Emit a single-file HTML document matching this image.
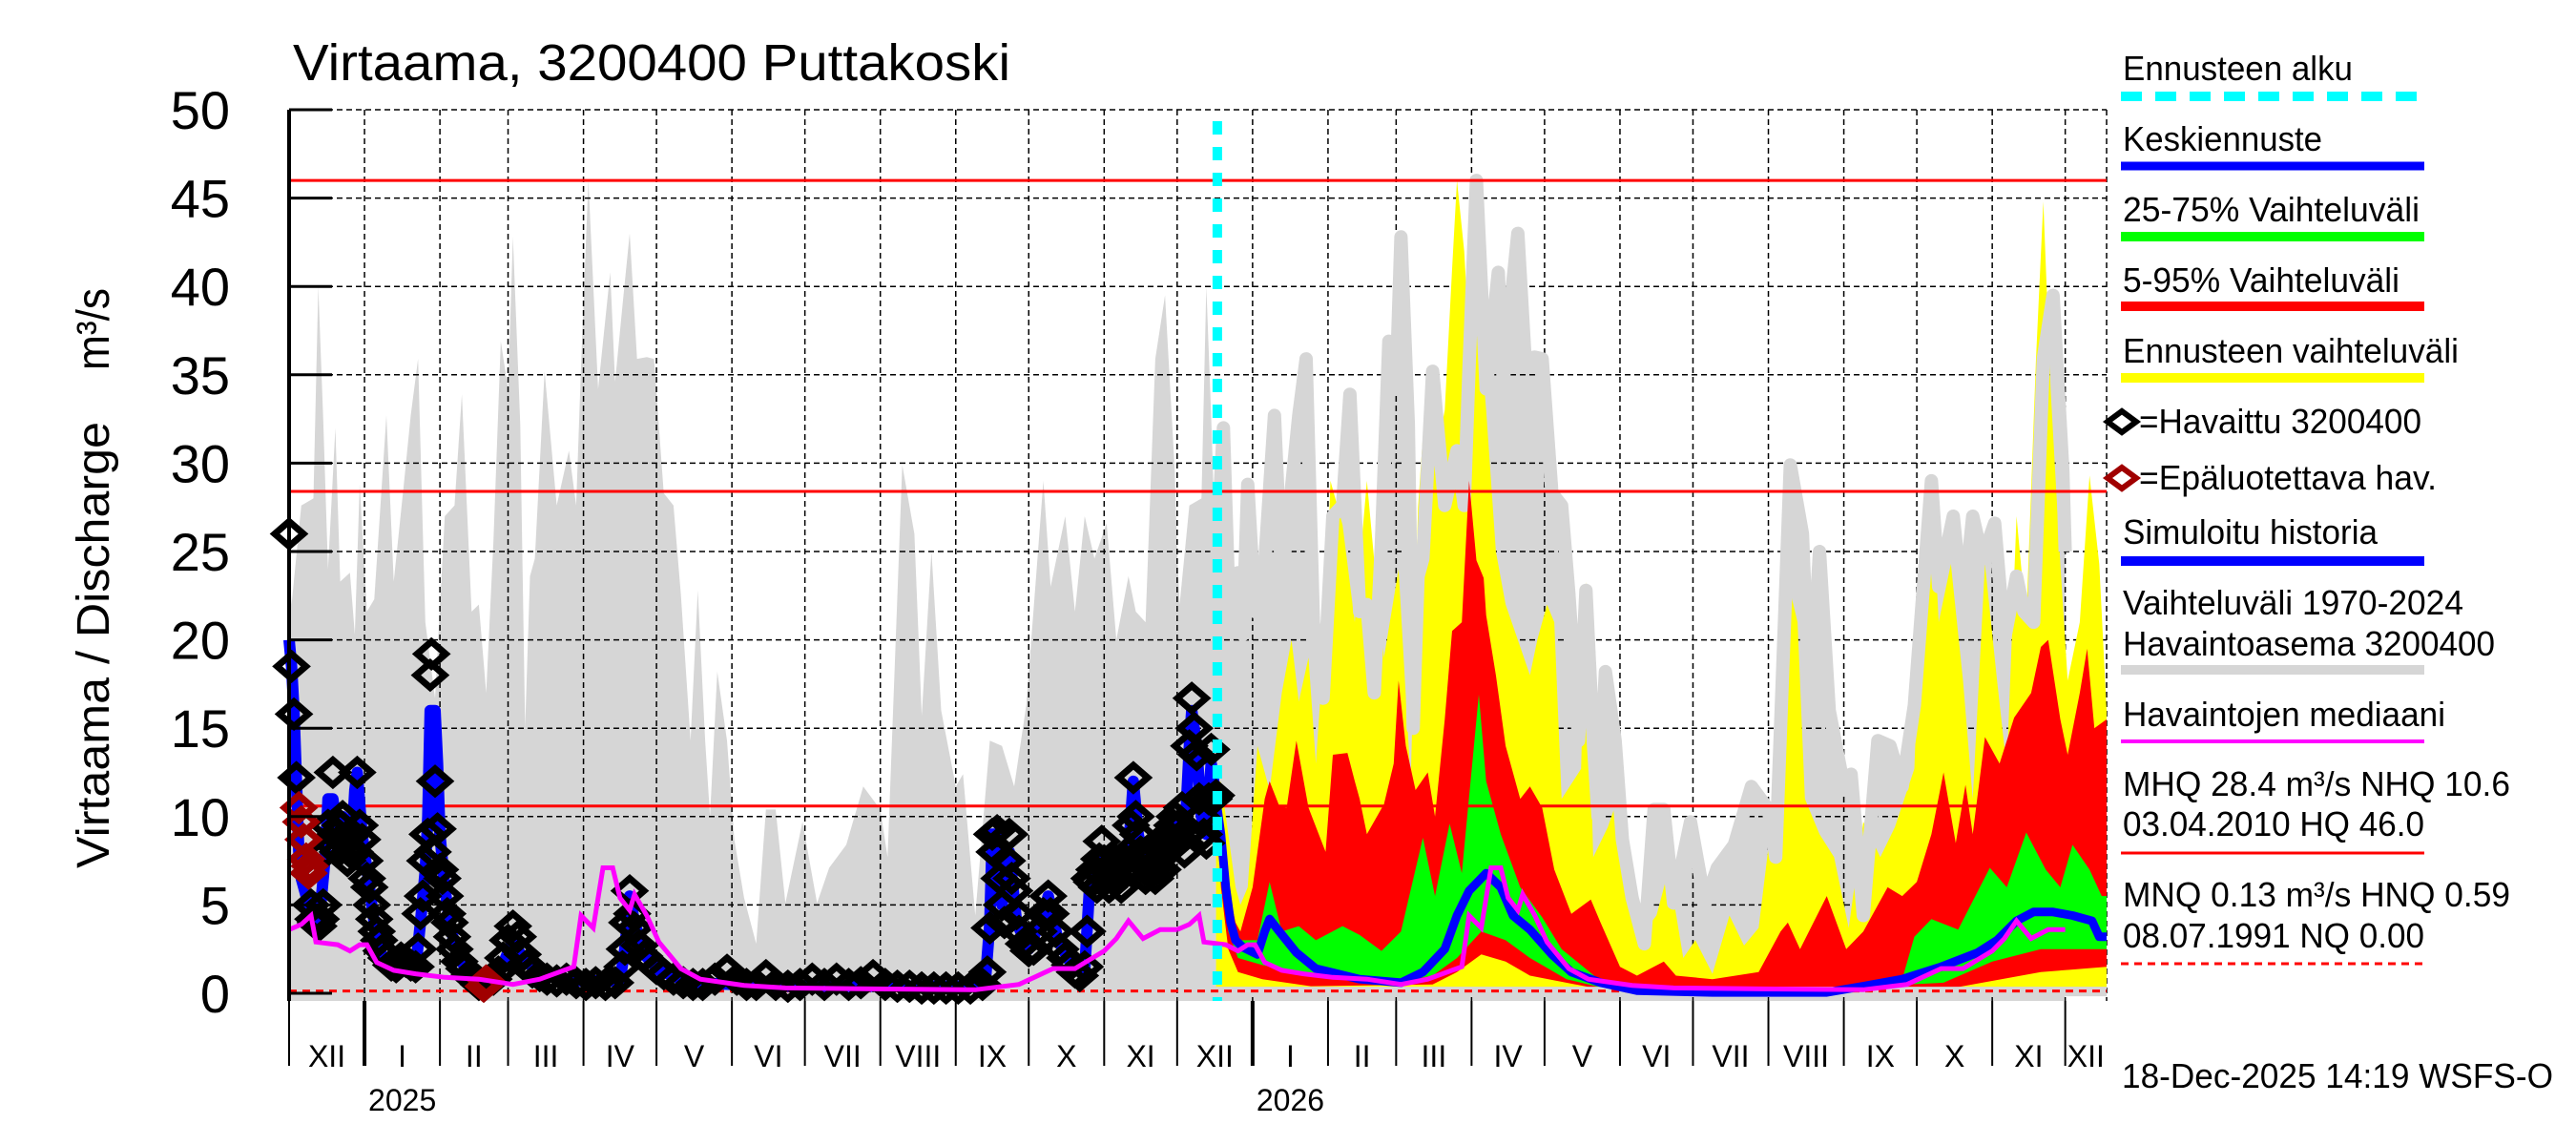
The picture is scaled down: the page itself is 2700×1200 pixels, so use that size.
<!DOCTYPE html>
<html><head><meta charset="utf-8"><style>
html,body{margin:0;padding:0;background:#fff;}
svg{display:block;font-family:"Liberation Sans",Arial,sans-serif;}
</style></head><body>
<svg id="chart" width="2700" height="1200" viewBox="0 0 2700 1200" xmlns="http://www.w3.org/2000/svg">
<rect x="0" y="0" width="2700" height="1200" fill="#fff"/>
<g id="plot"></g>
<text x="307" y="84" font-size="54" textLength="752" lengthAdjust="spacingAndGlyphs">Virtaama, 3200400 Puttakoski</text>
<text transform="translate(114,910) rotate(-90)" font-size="48" textLength="468" lengthAdjust="spacingAndGlyphs">Virtaama / Discharge</text>
<text transform="translate(114,388) rotate(-90)" font-size="48" textLength="86" lengthAdjust="spacingAndGlyphs">m³/s</text>
<text x="2224" y="1140" font-size="36" textLength="452" lengthAdjust="spacingAndGlyphs">18-Dec-2025 14:19 WSFS-O</text>
<g id="legend"></g>
</svg>
<script>
// ---- data (days since 1 Dec 2024) ----
const climDays=[0,1,5,10,12,14,16,19,21,25,27,29,32,35,40,43,47,50,53,56,60,64,68,71,75,78,81,84,87,90,92,95,97,99,101,105,110,115,118,120,123,127,132,134,137,140,143,147,150,154,158,161,165,168,171,173,176,180,183,187,192,196,200,204,211,217,222,229,236,243,246,252,257,260,264,268,274,277,282,288,293,298,303,310,313,319,323,327,331,336,340,345,348,352,356,360,364,365];
const climMax=[25,22,27.6,28,40,32.6,24,32,23.3,23.8,20.3,28.8,21.6,22.3,32.7,23.3,28.6,32.7,35.9,21,16.7,27,27.6,33.9,21.6,22,17,25.6,36.9,34.2,42.8,32.2,15,23.6,24.6,35.2,27.6,30.7,27.6,35.5,46,34.2,40.8,34.6,38.9,43,35.9,36,35.9,28.3,27.6,22.6,14.3,22.8,14.3,10,18.2,14.3,8.7,5.4,2.8,10.4,10.4,5.1,9.7,5.1,7.1,8.4,11.7,10.4,7.7,29.9,26,15.7,25,16,11.7,12.4,4.4,14.3,14,11.7,16.3,29,23,27,21.6,27,24.6,26.6,20,23.6,21.6,21,35.9,39.5,29.6,25];
const medDays=[0,5,9,11,20,25,29,32,36,43,52,64,78,92,103,113,117,120,125,129,133,136,140,142,147,152,161,169,187,204,240,282,300,314,323,335,340,345,351,358,365];
const medVals=[3.6,3.9,4.4,2.9,2.75,2.4,2.75,2.75,1.75,1.3,1.1,0.9,0.8,0.5,0.8,1.3,1.5,4.4,3.7,7.1,7.1,5.4,4.7,5.6,4.4,2.9,1.4,0.8,0.45,0.3,0.25,0.2,0.5,1.4,1.4,2.4,3.1,4.1,3.1,3.6,3.6];
const obsDays=[0,1,2,3,9,10,11,12,13,14,15,16,17,18,19,20,21,22,23,24,25,26,27,28,29,30,31,32,33,34,35,36,37,38,40,42,44,46,48,50,52,53,54,55,56,57,58,58.5,59,60,61,62,63,64,65,66,67,68,70,72,74,76,78,84,86,88,90,92,94,96,98,100,103,106,110,114,118,122,126,130,134,137,138,139,140,141,142,144,146,148,151,154,158,162,166,170,175,180,184,188,192,196,200,205,210,215,220,225,230,235,240,245,250,255,260,265,270,275,280,285,287,288,289,290,291,292,293,294,295,296,297,298,299,300,302,304,306,308,310,312,313,315,317,319,321,323,325,327,328,329,330,331,332,333,334,335,336,337,338,339,340,341,342,343,344,345,346,347,348,349,350,351,352,353,354,355,356,357,358,359,360,361,362,363,364,365,366,367,368,369,370,371,372,373,374,375,376,377,378,379,380,381];
const obsVals=[26,18.5,15.8,12.2,5,4.2,4,3.8,4.2,5,8,9.5,8.5,12.5,9,8,9.5,10,8.5,7.5,8,9,8,12.5,9.5,8.7,7.5,6.5,6,5,4.2,3.5,3,2.4,2,1.6,1.5,2,1.8,1.6,1.5,2.5,4.5,5.5,7.5,9,18,19.2,8,12,9.3,7,6.5,5.5,4.5,4,3.2,2.5,1.8,1.4,1,0.8,0.5,0.8,1.2,2,3,3.8,3.2,2.2,1.6,1.2,1,0.8,0.7,0.8,0.6,0.5,0.6,0.5,0.6,1.5,2.5,4,5.8,4.5,3.7,2.7,2.1,1.8,1.4,1.1,0.8,0.6,0.5,0.5,0.8,1.3,0.8,0.5,0.5,1,0.5,0.4,0.5,0.8,0.5,0.8,0.5,0.6,1,0.5,0.4,0.4,0.3,0.3,0.3,0.3,0.3,0.5,1.2,3.7,9,8,9.2,6.5,5,4,7.5,9,6.5,5.8,4.5,3.5,2.8,2.4,2.5,3.5,4.5,5.5,4.5,3.5,2.5,2,1.6,1.2,1,1.5,3.5,6.5,6.3,7,6,7.6,8.6,7.5,6.5,6,7,6.5,7.5,6.5,6,6.8,7.5,8,9.5,12.2,10,9,8,7.5,6.5,7,8,7,6.5,7.5,8.5,7,8,9,8.5,9.5,10,8.5,9.5,10.5,8,9,14,16.7,15,13.5,11,10,9,8.5,11,13.8,11,11.2];
const badDays=[4,5,6,7,8,8.5,80,81];
const badVals=[10.5,9.7,8.7,7.6,6.8,7.2,0.4,0.7];
const simDays=[0,1,2,3,4,5,7,9,11,13,15,16,18,20,22,24,26,27,28,30,32,34,36,38,42,48,52,54,56,57,58,60,61,62,64,66,68,72,78,86,92,96,104,120,136,138,140,142,146,152,165,200,286,288,289,291,293,296,299,304,310,312,316,322,327,329,333,336,340,345,347,349,352,356,360,364,368,370,371,373,375,377,379,381];
const simVals=[20,18.5,16,12,8,6.5,5.5,4.5,4,5,8,11,11,9,10,8,9,11.5,12.5,9,7,5,3,2.2,1.6,1.6,1.4,4,7,10,16,16,13,9,6,4,2.8,1.5,0.6,1,3,2,1,0.7,0.7,2.5,5.5,4,2.2,1.3,0.6,0.4,0.4,4,9,9,5,8,4,2.5,4.5,5.5,3,1.5,1.3,6,7.5,6,7,8,12,9,7,7,8,9.5,8.5,14,16,14,10,9,13,11];
const fcDays=[381,383,385,387,389,392,398,401,403,407,414,422,440,457,466,475,480,485,492,498,503,510,519,527,539,554,585,632,647,663,679,694,702,710,717,725,733,741,744,747];
const fcMedian=[11,9,6,4,3,2.6,2.2,3.5,4.2,3.5,2.3,1.4,0.8,0.6,1.2,2.5,4.4,5.8,6.8,6,4.4,3.6,2.2,1.2,0.6,0.15,0.05,0.05,0.4,0.8,1.5,2.3,3,4.1,4.6,4.6,4.4,4.1,3.2,3.2];
const yelDays=[381,383,386,389,391,394,398,403,408,412,415,419,422,426,428,433,438,443,447,450,456,461,464,468,471,475,478,480,483,485,489,492,496,500,505,510,513,517,520,523,531,533,536,542,547,553,558,562,567,573,578,585,592,598,604,609,613,616,620,623,629,635,641,647,654,660,668,672,675,678,683,688,692,697,702,706,710,714,718,721,724,728,731,736,740,744,747];
const yelMax=[11,12,9,6,5,6,14,11.5,17,20,16.5,19,13,21,29,26.5,21,29,23,19,24,12,27.5,35.5,30,33,41,46,42,37,38,33,25,22,20,18,20,22,21,11,12.7,23.3,7.7,9.4,11.4,6,3.7,4.4,7,2,3,1.1,4.4,2.7,3.7,9.4,17.7,23.3,21,11,9,7.7,3.7,9.7,7.7,9.4,12.7,27.6,29.3,21,24.3,17.7,11,24.3,17.7,12.7,27,21,35.9,44.8,34.2,24.3,17.7,21,29.3,24.3,16];
const redDays=[381,383,386,389,391,396,401,403,407,410,414,419,426,429,435,438,440,443,450,454,456,459,463,468,471,475,478,482,485,488,491,492,496,500,506,510,515,520,527,535,539,547,554,565,570,585,604,613,616,621,632,640,647,657,663,669,675,680,685,689,692,697,703,709,716,720,723,728,731,736,739,742,747];
const redHigh=[11,10,6,4,3.5,6,11,12,10.6,10.5,14.3,10.5,8,13.5,13.6,12,11,9,10.7,13,17.7,14,11.5,12.5,10,15.5,20.5,21,29,24.5,23.5,21.4,18,14,11,11.7,10.5,7,4.5,5.3,4,1.5,1,1.8,1,0.8,1.2,3.5,4,2.5,5.5,2.5,3.5,6,5.5,6.3,9,12.5,8.5,11.8,9,14.5,13,15.6,17,19.6,20,15.5,13.5,17,19.5,15,15.5];
const redLowDays=[381,383,386,390,400,420,470,480,490,500,510,540,600,680,700,720,747];
const redLow=[11,6,2.5,1.2,0.8,0.4,0.5,1.2,2.2,1.8,1,0.2,0.02,0.2,0.7,1.2,1.5];
const grnDays=[381,383,386,390,398,403,408,415,422,433,440,449,457,466,471,477,482,489,492,498,506,515,523,539,560,650,663,668,675,686,699,706,714,722,728,733,740,745,747];
const grnHigh=[11,8,4.5,3,3,6.3,3.5,3.8,3,3.8,3.3,2.4,3.5,8.8,5.5,9.6,6.8,16.9,12,9,6,4.3,2.5,0.7,0.25,0.25,0.8,3.2,4.2,3.6,7.1,6,9.1,7,6,8.4,7,5.5,5.5];
const grnLowDays=[381,383,386,390,400,420,450,470,480,490,500,510,525,540,600,680,700,720,747];
const grnLow=[11,7,3.5,2,1.6,1,0.5,1,2,3.5,3,2,0.8,0.3,0.05,0.6,1.8,2.5,2.5];
const refLevels=[46.0,28.4,10.6];
const lowRef=0.13;
const forecastStartDay=381.5;
const yTicks=[0,5,10,15,20,25,30,35,40,45,50];
const monthLens=[31,31,28,31,30,31,30,31,31,30,31,30,31,31,28,31,30,31,30,31,31,30,31,30,31];
const monthLabels=["XII","I","II","III","IV","V","VI","VII","VIII","IX","X","XI","XII","I","II","III","IV","V","VI","VII","VIII","IX","X","XI","XII"];
const yearLabels=["2025","2026"];

// ---- scales ----
const X0=303,X1=2208,DMAX=747,Y0=1041,PXV=18.52,YTOP=115,YBOT=1049;
function xs(d){return X0+(d/DMAX)*(X1-X0);}
function ys(v){return Y0-v*PXV;}
const NS="http://www.w3.org/2000/svg";
const plot=document.getElementById('plot');
function mk(tag,attrs,parent){const e=document.createElementNS(NS,tag);for(const k in attrs)e.setAttribute(k,attrs[k]);(parent||plot).appendChild(e);return e;}
function line(days,vals,off){return days.map((d,i)=>(i?'L':'M')+xs(d+(off||0)).toFixed(1)+','+ys(vals[i]).toFixed(1)).join(' ');}
function band(dU,vU,dL,vL){let p=line(dU,vU);for(let i=dL.length-1;i>=0;i--)p+=' L'+xs(dL[i]).toFixed(1)+','+ys(vL[i]).toFixed(1);return p+' Z';}
const clipR=mk('clipPath',{id:'clipPlot'});mk('rect',{x:X0,y:YTOP-30,width:X1-X0,height:YBOT-YTOP+40},clipR);

// gray climatology fill for two years
let gp='';
[0,365].forEach(off=>{gp+=line(climDays,climMax,off)+' L'+xs(365+off)+','+YBOT+' L'+xs(off)+','+YBOT+' Z ';});
let el=mk('path',{d:gp,fill:'#d6d6d6','clip-path':'url(#clipPlot)'});



// grid
const gridG=mk('g',{});


yTicks.forEach(v=>{if(v>0){mk('line',{x1:X0,x2:X1,y1:ys(v),y2:ys(v),stroke:'#000','stroke-width':1.5,'stroke-dasharray':'6,4'},gridG);}});
let cum=0;const bounds=[0];monthLens.forEach(m=>{cum+=m;bounds.push(cum);});
bounds.forEach(b=>{if(b>0&&b<DMAX){mk('line',{x1:xs(b),x2:xs(b),y1:YTOP,y2:YBOT,stroke:'#000','stroke-width':1.5,'stroke-dasharray':'6,4'},gridG);}});
mk('line',{x1:X1,x2:X1,y1:YTOP,y2:YBOT,stroke:'#000','stroke-width':1.5,'stroke-dasharray':'6,4'},gridG);

// forecast bands
el=mk('path',{d:line(yelDays,yelMax)+' L'+xs(747)+','+ys(0)+' L'+xs(381)+','+ys(0)+' Z',fill:'#ffff00'});


const cd2=climDays.filter(d=>d+365>=381).map(d=>d+365), cv2=climMax.filter((v,i)=>climDays[i]+365>=381);
el=mk('path',{d:line(cd2,cv2),fill:'none',stroke:'#d6d6d6','stroke-width':14,'stroke-linejoin':'round','clip-path':'url(#clipPlot)'});


el=mk('path',{d:band(redDays,redHigh,redLowDays,redLow),fill:'#ff0000'});


el=mk('path',{d:band(grnDays,grnHigh,grnLowDays,grnLow),fill:'#00ff00'});


el=mk('line',{x1:xs(381),x2:X1,y1:ys(0.1),y2:ys(0.1),stroke:'#d6d6d6','stroke-width':10});



// reference lines
refLevels.forEach(v=>{const r=mk('line',{x1:X0,x2:X1,y1:ys(v),y2:ys(v),stroke:'#ff0000','stroke-width':3});

});
el=mk('line',{x1:X0,x2:X1,y1:ys(lowRef),y2:ys(lowRef),stroke:'#ff0000','stroke-width':3,'stroke-dasharray':'8,6'});



// simulated history & forecast median
el=mk('path',{d:line(simDays,simVals),fill:'none',stroke:'#0000ff','stroke-width':12,'stroke-linejoin':'round'});


el=mk('path',{d:line(fcDays,fcMedian),fill:'none',stroke:'#0000ff','stroke-width':9,'stroke-linejoin':'round'});



// observed diamonds
function diamond(d,v,col,parent){const x=xs(d),y=ys(v);return mk('path',{d:`M${x-15},${y} L${x},${y-13} L${x+15},${y} L${x},${y+13} Z`,fill:'none',stroke:col,'stroke-width':7},parent);}
const obsG=mk('g',{});


obsDays.forEach((d,i)=>{const p=diamond(d,obsVals[i],'#000',obsG);

});
const badG=mk('g',{});


badDays.forEach((d,i)=>{const p=diamond(d,badVals[i],'#a00000',badG);

});

// median (two years)
let mp='';[0,365].forEach(off=>{mp+=line(medDays,medVals,off)+' ';});
el=mk('path',{d:mp,fill:'none',stroke:'#ff00ff','stroke-width':5,'clip-path':'url(#clipPlot)'});



// forecast start
el=mk('line',{x1:xs(forecastStartDay),x2:xs(forecastStartDay),y1:127,y2:YBOT,stroke:'#00ffff','stroke-width':10,'stroke-dasharray':'14,13'});



// axes
el=mk('line',{x1:X0,x2:X0,y1:YTOP,y2:YBOT,stroke:'#000','stroke-width':4});


yTicks.forEach(v=>{const t=mk('line',{x1:X0,x2:X0+45,y1:ys(v),y2:ys(v),stroke:'#000','stroke-width':3});


const lb=mk('text',{x:241,y:ys(v)+20,'font-size':56,'text-anchor':'end'});lb.textContent=String(v);

});
let yi=0;
bounds.forEach((b,i)=>{if(b<DMAX){const isYear=(monthLabels[i]==='I');
const t=mk('line',{x1:xs(b),x2:xs(b),y1:YBOT,y2:1117,stroke:'#000','stroke-width':isYear?4:2});


const e=Math.min(bounds[i+1],DMAX);
const lb=mk('text',{x:(xs(b)+xs(e))/2,y:1118,'font-size':32,'text-anchor':'middle'});lb.textContent=monthLabels[i];


if(isYear){const yl=mk('text',{x:xs(b)+4,y:1164,'font-size':32});yl.textContent=yearLabels[yi++];

}}});

// legend
const lg=document.getElementById('legend');
const items=[
 {t:'Ennusteen alku',y:84,ly:101,c:'#00ffff',w:10,dash:'22,14',tl:241},
 {t:'Keskiennuste',y:158,ly:174,c:'#0000ff',w:9,tl:209},
 {t:'25-75% Vaihteluväli',y:232,ly:248,c:'#00ff00',w:10,tl:311},
 {t:'5-95% Vaihteluväli',y:306,ly:321,c:'#ff0000',w:10,tl:290},
 {t:'Ennusteen vaihteluväli',y:380,ly:396,c:'#ffff00',w:10,tl:352},
 {t:'Simuloitu historia',y:570,ly:588,c:'#0000ff',w:10,tl:267},
 {t:'Havaintojen mediaani',y:761,ly:777,c:'#ff00ff',w:4,tl:338},
];
items.forEach(it=>{const tx=mk('text',{x:2225,y:it.y,'font-size':36,textLength:it.tl,lengthAdjust:'spacingAndGlyphs'},lg);tx.textContent=it.t;


const l=mk('line',{x1:2223,x2:2541,y1:it.ly,y2:it.ly,stroke:it.c,'stroke-width':it.w},lg);if(it.dash)l.setAttribute('stroke-dasharray',it.dash);

});
[['=Havaittu 3200400',442,454,'#000',296],['=Epäluotettava hav.',501,513,'#a00000',312]].forEach(a=>{
const p=mk('path',{d:`M2209,${a[1]} L2224,${a[1]-11} L2239,${a[1]} L2224,${a[1]+11} Z`,fill:'none',stroke:a[3],'stroke-width':6},lg);


const tx=mk('text',{x:2242,y:a[2],'font-size':36,textLength:a[4],lengthAdjust:'spacingAndGlyphs'},lg);tx.textContent=a[0];

});
[['Vaihteluväli 1970-2024',644,357],['Havaintoasema 3200400',687,390],['MHQ 28.4 m³/s NHQ 10.6',834,406],['03.04.2010 HQ 46.0',876,316],['MNQ 0.13 m³/s HNQ 0.59',950,406],['08.07.1991 NQ 0.00',993,316]].forEach(a=>{
const tx=mk('text',{x:2225,y:a[1],'font-size':36,textLength:a[2],lengthAdjust:'spacingAndGlyphs'},lg);tx.textContent=a[0];

});
el=mk('line',{x1:2223,x2:2541,y1:702,y2:702,stroke:'#d6d6d6','stroke-width':10},lg);


el=mk('line',{x1:2223,x2:2541,y1:894,y2:894,stroke:'#ff0000','stroke-width':3},lg);


el=mk('line',{x1:2223,x2:2541,y1:1010,y2:1010,stroke:'#ff0000','stroke-width':3,'stroke-dasharray':'8,6'},lg);


</script>
</body></html>
